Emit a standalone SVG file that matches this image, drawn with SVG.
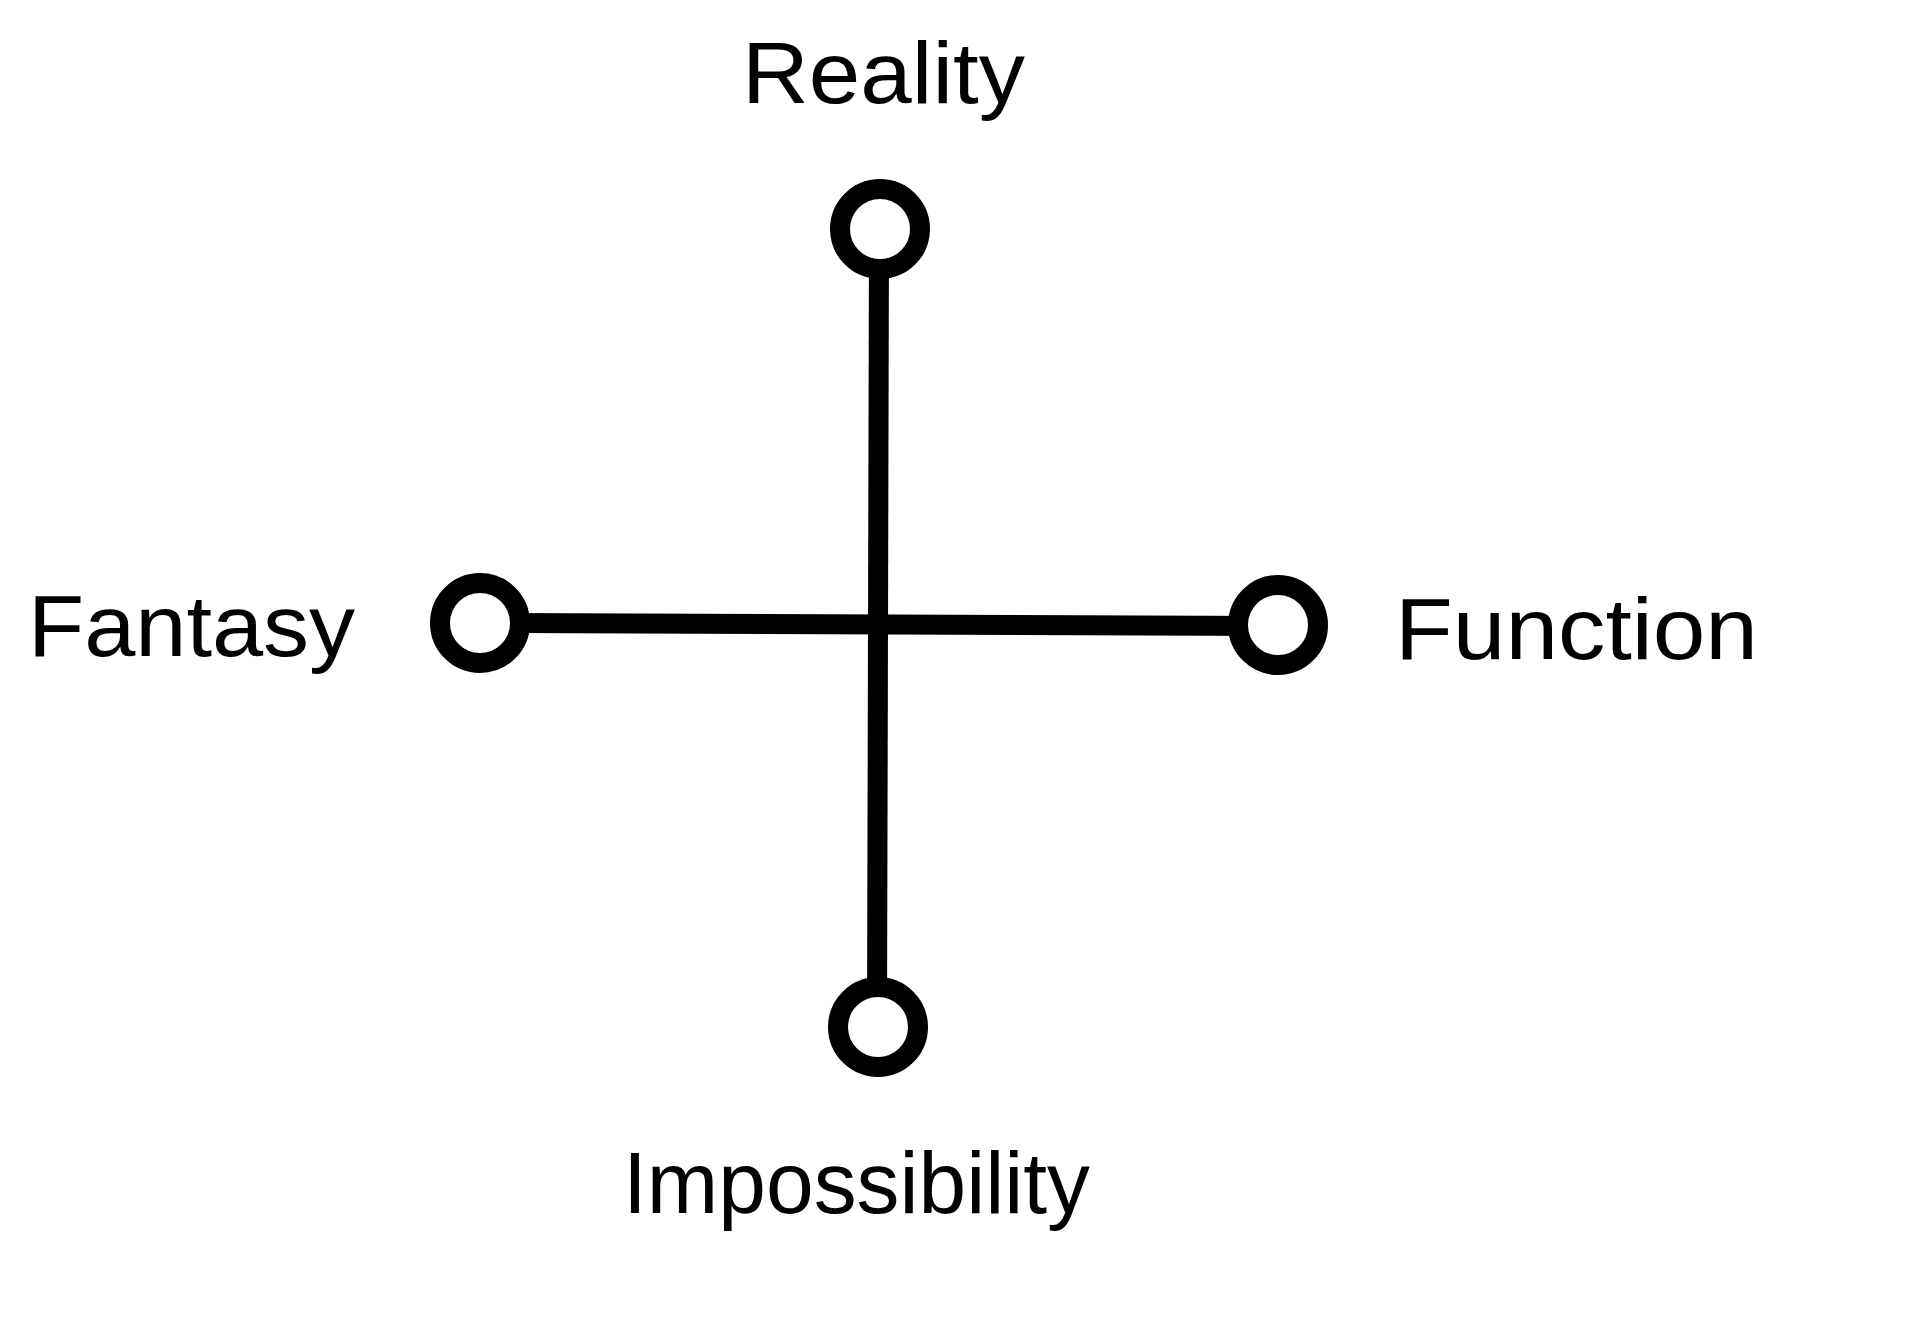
<svg xmlns="http://www.w3.org/2000/svg" width="1920" height="1331" viewBox="0 0 1920 1331">
<style>
.lbl{font-family:"Liberation Sans",Arial,sans-serif;font-size:88px;fill:#000}
.node{fill:#fff;stroke:#000;stroke-width:20}
.edge{stroke:#000;stroke-width:20;fill:none}
</style>
<rect width="1920" height="1331" fill="#fff"/>
<g id="connectors">
<line class="edge" x1="879" y1="229" x2="877" y2="1027"/>
<line class="edge" x1="480" y1="623" x2="1278" y2="626"/>
</g>
<g id="reality">
<circle class="node" cx="880" cy="229" r="40"/>
<text class="lbl" x="742" y="103" textLength="283" lengthAdjust="spacingAndGlyphs">Reality</text>
</g>
<g id="fantasy">
<circle class="node" cx="480" cy="623" r="40"/>
<text class="lbl" x="28" y="656" textLength="327" lengthAdjust="spacingAndGlyphs">Fantasy</text>
</g>
<g id="function">
<circle class="node" cx="1278" cy="625" r="40"/>
<text class="lbl" x="1395" y="659" textLength="363" lengthAdjust="spacingAndGlyphs">Function</text>
</g>
<g id="impossibility">
<circle class="node" cx="878" cy="1027" r="40"/>
<text class="lbl" x="623" y="1213" textLength="467" lengthAdjust="spacingAndGlyphs">Impossibility</text>
</g>
</svg>
